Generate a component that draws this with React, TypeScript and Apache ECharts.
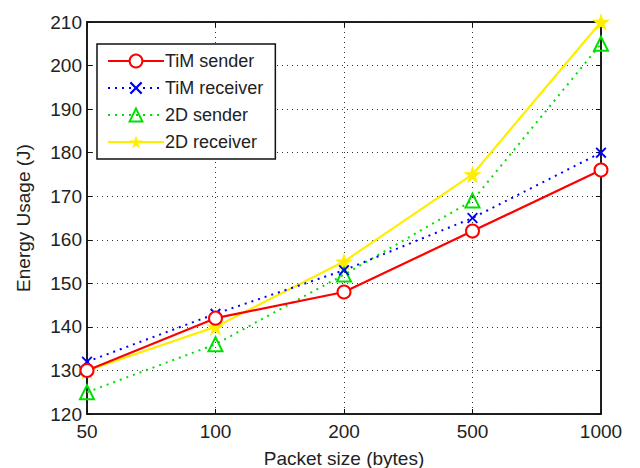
import React, { useEffect, useRef } from "react";
import * as echarts from "echarts";

const packetSizes = ["50", "100", "200", "500", "1000"];
const timSender = [130, 142, 148, 162, 176];
const timReceiver = [132, 143, 153, 165, 180];
const dSender = [125, 136, 152, 169, 205];
const dReceiver = [130, 140, 155, 175, 210];

const crossPath =
  "path://M0,1.2L1.2,0L5,3.8L8.8,0L10,1.2L6.2,5L10,8.8L8.8,10L5,6.2L1.2,10L0,8.8L3.8,5Z";
const starPath =
  "path://M5,0L6.2,3.6L10,3.6L6.9,5.9L8.1,9.5L5,7.3L1.9,9.5L3.1,5.9L0,3.6L3.8,3.6Z";

const FONT = "Liberation Sans, Arial, sans-serif";

export default function App() {
  const ref = useRef<HTMLDivElement>(null);

  useEffect(() => {
    if (!ref.current) return;
    const chart = echarts.init(ref.current, undefined, { renderer: "svg" });
    const gridLine = { show: true, lineStyle: { color: "#333", type: [1, 4] as any, width: 1 } };
    chart.setOption({
      animation: false,
      backgroundColor: "#fff",
      textStyle: { fontFamily: FONT },
      grid: {
        left: 87,
        right: 39,
        top: 22,
        bottom: 54,
        outerBoundsMode: "none",
        containLabel: false,
        show: true,
        borderColor: "#111",
        borderWidth: 1.5,
        backgroundColor: "#fff",
      },
      legend: {
        left: 97,
        top: 44,
        orient: "vertical",
        backgroundColor: "#fff",
        borderColor: "#111",
        borderWidth: 1.5,
        borderRadius: 0,
        padding: [8, 12, 8, 10],
        itemGap: 9,
        itemWidth: 56,
        itemHeight: 16,
        textStyle: {
          fontSize: 18,
          lineHeight: 18,
          color: "#222",
          fontFamily: FONT,
          padding: [0, 0, 0, -4],
        },
        data: ["TiM sender", "TiM receiver", "2D sender", "2D receiver"],
      },
      xAxis: [
        {
          type: "category",
          data: packetSizes,
          boundaryGap: false,
          name: "Packet size (bytes)",
          nameLocation: "middle",
          nameGap: 35,
          nameTextStyle: { fontSize: 19, color: "#222", fontFamily: FONT },
          axisLine: { show: true, lineStyle: { color: "#111", width: 1.5 } },
          axisTick: { show: true, inside: true, length: 5, lineStyle: { color: "#111" } },
          axisLabel: { fontSize: 19, color: "#222", margin: 8, fontFamily: FONT },
          splitLine: gridLine,
        },
        {
          type: "category",
          data: packetSizes,
          boundaryGap: false,
          position: "top",
          axisLine: { show: true, lineStyle: { color: "#111", width: 1.5 } },
          axisTick: { show: true, inside: true, length: 5, lineStyle: { color: "#111" } },
          axisLabel: { show: false },
          splitLine: { show: false },
        },
      ],
      yAxis: [
        {
          type: "value",
          min: 120,
          max: 210,
          interval: 10,
          name: "Energy Usage (J)",
          nameLocation: "middle",
          nameGap: 54,
          nameTextStyle: { fontSize: 19, color: "#222", fontFamily: FONT },
          axisLine: { show: true, lineStyle: { color: "#111", width: 1.5 } },
          axisTick: { show: true, inside: true, length: 5, lineStyle: { color: "#111" } },
          axisLabel: { fontSize: 19, color: "#222", margin: 5, fontFamily: FONT },
          splitLine: gridLine,
        },
        {
          type: "value",
          min: 120,
          max: 210,
          interval: 10,
          position: "right",
          axisLine: { show: true, lineStyle: { color: "#111", width: 1.5 } },
          axisTick: { show: true, inside: true, length: 5, lineStyle: { color: "#111" } },
          axisLabel: { show: false },
          splitLine: { show: false },
        },
      ],
      series: [
        {
          name: "TiM sender",
          type: "line",
          data: timSender,
          symbol: "circle",
          symbolSize: 13,
          itemStyle: { color: "#fff", borderColor: "#ff0000", borderWidth: 2 },
          lineStyle: { color: "#ff0000", width: 2.2, type: "solid" },
          z: 5,
        },
        {
          name: "TiM receiver",
          type: "line",
          data: timReceiver,
          symbol: crossPath,
          symbolSize: 11,
          itemStyle: { color: "#0000ff" },
          lineStyle: { color: "#0000ff", width: 2, type: [2, 5] },
          z: 4,
        },
        {
          name: "2D sender",
          type: "line",
          data: dSender,
          symbol: "triangle",
          symbolSize: 14,
          itemStyle: { color: "rgba(255,255,255,0)", borderColor: "#00e000", borderWidth: 2 },
          lineStyle: { color: "#00e000", width: 2, type: [2, 5] },
          z: 3,
        },
        {
          name: "2D receiver",
          type: "line",
          data: dReceiver,
          symbol: starPath,
          symbolSize: 18,
          itemStyle: { color: "#ffee00" },
          lineStyle: { color: "#ffee00", width: 2.2, type: "solid" },
          z: 2,
        },
      ],
    });
    return () => chart.dispose();
  }, []);

  return <div ref={ref} style={{ width: 640, height: 468, position: "absolute", left: 0, top: 0 }} />;
}
